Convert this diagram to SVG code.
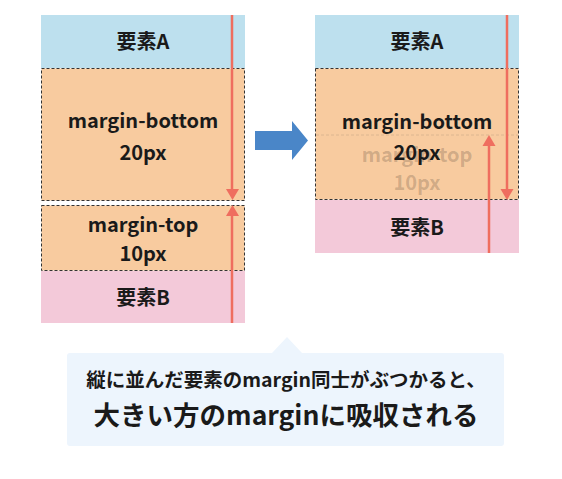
<svg xmlns="http://www.w3.org/2000/svg" width="562" height="479" viewBox="0 0 562 479">
<style>
.t{font-family:"Noto Sans CJK JP","Noto Sans",sans-serif;font-weight:bold;fill:#1a1a1a;text-anchor:middle;}
.m{font-size:20px;}
.fade{fill:#000;fill-opacity:0.18;}
.a{fill:#bde0ee;}
.mg{fill:#f8cb9f;stroke:#333;stroke-width:1;stroke-dasharray:3 2;}
.b{fill:#f3c9d9;}
.red{stroke:#ef6e5f;stroke-width:2.5;fill:none;}
.redh{fill:#ef6e5f;}
</style>
<rect width="562" height="479" fill="#fff"/>
<g id="left-elementA"><rect class="a" x="41" y="15" width="204" height="53"/><text class="t m" x="143" y="49">要素A</text></g>
<g id="left-margin-bottom"><rect class="mg" x="41.5" y="68.5" width="203" height="132"/><text class="t m" x="143" y="128">margin-bottom</text><text class="t m" x="143" y="160">20px</text></g>
<g id="left-margin-top"><rect class="mg" x="41.5" y="205.5" width="203" height="65"/><text class="t m" x="143" y="232">margin-top</text><text class="t m" x="143" y="261">10px</text></g>
<g id="left-elementB"><rect class="b" x="41" y="271" width="204" height="52"/><text class="t m" x="143" y="305">要素B</text></g>
<g id="right-elementA"><rect class="a" x="315" y="15" width="204" height="53"/><text class="t m" x="417" y="49">要素A</text></g>
<g id="right-margin"><rect class="mg" x="315.5" y="68.5" width="203" height="131"/><line x1="316" y1="135" x2="518" y2="135" stroke="#dcb690" stroke-dasharray="3 2"/><text class="t m fade" x="417" y="162">margin-top</text><text class="t m fade" x="417" y="190">10px</text><text class="t m" x="417" y="129">margin-bottom</text><text class="t m" x="417" y="160">20px</text></g>
<g id="right-elementB"><rect class="b" x="315" y="200" width="204" height="53"/><text class="t m" x="417" y="235">要素B</text></g>
<g id="arrow"><polygon points="255,131 292,131 292,121 308,140.5 292,160 292,150 255,150" fill="#4a86c8"/></g>
<g id="callout"><path d="M70,353 H272 L287,337 L302,353 H501 Q504,353 504,356 V443 Q504,446 501,446 H70 Q67,446 67,443 V356 Q67,353 70,353 Z" fill="#edf5fd"/><text class="t" x="286" y="387" font-size="19.5">縦に並んだ要素のmargin同士がぶつかると、</text><text class="t" x="286" y="425" font-size="26.5">大きい方のmarginに吸収される</text></g>
<g id="connectors">
<line class="red" x1="232" y1="15" x2="232" y2="190"/><polygon class="redh" points="226,189 239,189 232.5,200"/>
<line class="red" x1="232" y1="215" x2="232" y2="323"/><polygon class="redh" points="226,216 239,216 232.5,205"/>
<line class="red" x1="507" y1="15" x2="507" y2="190"/><polygon class="redh" points="500.5,189 513.5,189 507,200"/>
<line class="red" x1="489" y1="145" x2="489" y2="253"/><polygon class="redh" points="482.5,146 495.5,146 489,135"/>
</g>
</svg>
